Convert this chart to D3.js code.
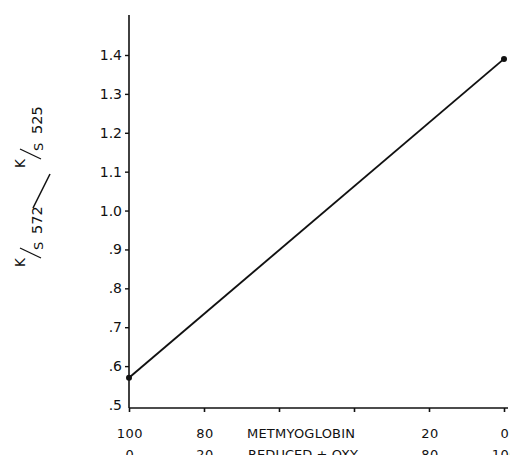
<!DOCTYPE html>
<html>
<head>
<meta charset="utf-8">
<script src="https://cdn.jsdelivr.net/npm/d3@7"></script>
<style>
  html, body { margin: 0; padding: 0; background: #fff; }
  svg { display: block; }
  text { font-family: "DejaVu Sans", sans-serif; fill: #111; }
</style>
</head>
<body>
<div id="chart"></div>
<script>
// Percent metmyoglobin at each end of the mixture series
const metPercent = [100, 0];
// K/S 572 over K/S 525 ratio measured at those ends
const ratio = [0.57, 1.39];

const yTicks = [0.5, 0.6, 0.7, 0.8, 0.9, 1.0, 1.1, 1.2, 1.3, 1.4];
const yTickLabels = [".5", ".6", ".7", ".8", ".9", "1.0", "1.1", "1.2", "1.3", "1.4"];
const xTicks = [100, 80, 60, 40, 20, 0];
const metLabels = ["100", "80", "", "", "20", "0"];
const reducedLabels = ["0", "20", "", "", "80", "100"];
const metTitle = "METMYOGLOBIN";
const reducedTitle = "REDUCED + OXY";

const W = 510, H = 455;
const svg = d3.select("#chart").append("svg")
  .attr("width", W).attr("height", H);

const x = d3.scaleLinear().domain([100, 0]).range([129, 504]);
const y = d3.scaleLinear().domain([0.5, 1.4]).range([405, 55]);

const ink = "#111";

// Y axis: long vertical rule with short left ticks
const yAxis = d3.axisLeft(y)
  .tickValues(yTicks)
  .tickSize(4)
  .tickPadding(3)
  .tickFormat((d, i) => yTickLabels[i]);
const gy = svg.append("g").attr("transform", `translate(${x(100)},0)`).call(yAxis);
gy.select(".domain").remove();
gy.selectAll(".tick line").attr("stroke", ink).attr("stroke-width", 1.4);
gy.selectAll(".tick text")
  .attr("font-size", 14)
  .attr("fill", ink)
  .attr("font-family", "DejaVu Sans, sans-serif");
gy.selectAll(".tick").filter(d => d === 0.5).select("line").remove();
svg.append("line")
  .attr("x1", x(100)).attr("x2", x(100))
  .attr("y1", 15).attr("y2", 408)
  .attr("stroke", ink).attr("stroke-width", 1.6);

// X axis: baseline with downward ticks, two rows of tick labels
const xAxis = d3.axisBottom(x)
  .tickValues(xTicks)
  .tickSize(4)
  .tickFormat("");
const gx = svg.append("g").attr("transform", `translate(0,408)`).call(xAxis);
gx.select(".domain").remove();
gx.selectAll(".tick line").attr("stroke", ink).attr("stroke-width", 1.6);
svg.append("line")
  .attr("x1", x(100)).attr("x2", 508)
  .attr("y1", 408).attr("y2", 408)
  .attr("stroke", ink).attr("stroke-width", 1.4);

const labelFont = 13;
svg.append("g").selectAll("text.met")
  .data(xTicks.filter((d, i) => metLabels[i] !== ""))
  .join("text")
  .attr("class", "met")
  .attr("x", d => x(d) + 1)
  .attr("y", 438)
  .attr("text-anchor", "middle")
  .attr("font-size", labelFont)
  .attr("letter-spacing", 0.5)
  .text(d => metLabels[xTicks.indexOf(d)]);

svg.append("g").selectAll("text.red")
  .data(xTicks.filter((d, i) => reducedLabels[i] !== ""))
  .join("text")
  .attr("class", "red")
  .attr("x", d => x(d) + 1)
  .attr("y", 459)
  .attr("text-anchor", "middle")
  .attr("font-size", labelFont)
  .attr("letter-spacing", 0.5)
  .text(d => reducedLabels[xTicks.indexOf(d)]);

svg.append("text")
  .attr("x", 247).attr("y", 438)
  .attr("font-size", labelFont)
  .attr("textLength", 108)
  .attr("lengthAdjust", "spacing")
  .text(metTitle);
svg.append("text")
  .attr("x", 248).attr("y", 459)
  .attr("font-size", labelFont)
  .attr("textLength", 110)
  .attr("lengthAdjust", "spacing")
  .text(reducedTitle);

// Ratio line and its two measured end points
const pts = metPercent.map((m, i) => ({ m, r: ratio[i] }));
svg.append("path")
  .datum(pts)
  .attr("fill", "none")
  .attr("stroke", ink)
  .attr("stroke-width", 1.9)
  .attr("d", d3.line().x(d => x(d.m)).y(d => y(d.r)));
svg.append("g").selectAll("circle")
  .data(pts)
  .join("circle")
  .attr("cx", d => x(d.m))
  .attr("cy", d => y(d.r))
  .attr("r", 3)
  .attr("fill", ink);

// Vertical y-axis title: K/S 572 over K/S 525, lettered bottom-to-top
function rot(xp, yp, str, size) {
  return svg.append("text")
    .attr("transform", `translate(${xp},${yp}) rotate(-90)`)
    .attr("font-size", size)
    .text(str);
}
function ksFraction(bottomY) {
  // raised K, solidus, lowered S
  rot(25, bottomY, "K", 13.5);
  svg.append("line")
    .attr("x1", 41).attr("y1", bottomY - 9)
    .attr("x2", 20).attr("y2", bottomY - 19)
    .attr("stroke", ink).attr("stroke-width", 1.3);
  rot(43, bottomY - 17, "S", 13);
}
ksFraction(267);
rot(42, 234, "572", 14.5);
svg.append("line")
  .attr("x1", 33).attr("y1", 208)
  .attr("x2", 50).attr("y2", 174)
  .attr("stroke", ink).attr("stroke-width", 1.5);
ksFraction(168);
rot(42, 134, "525", 14.5);
</script>
</body>
</html>
